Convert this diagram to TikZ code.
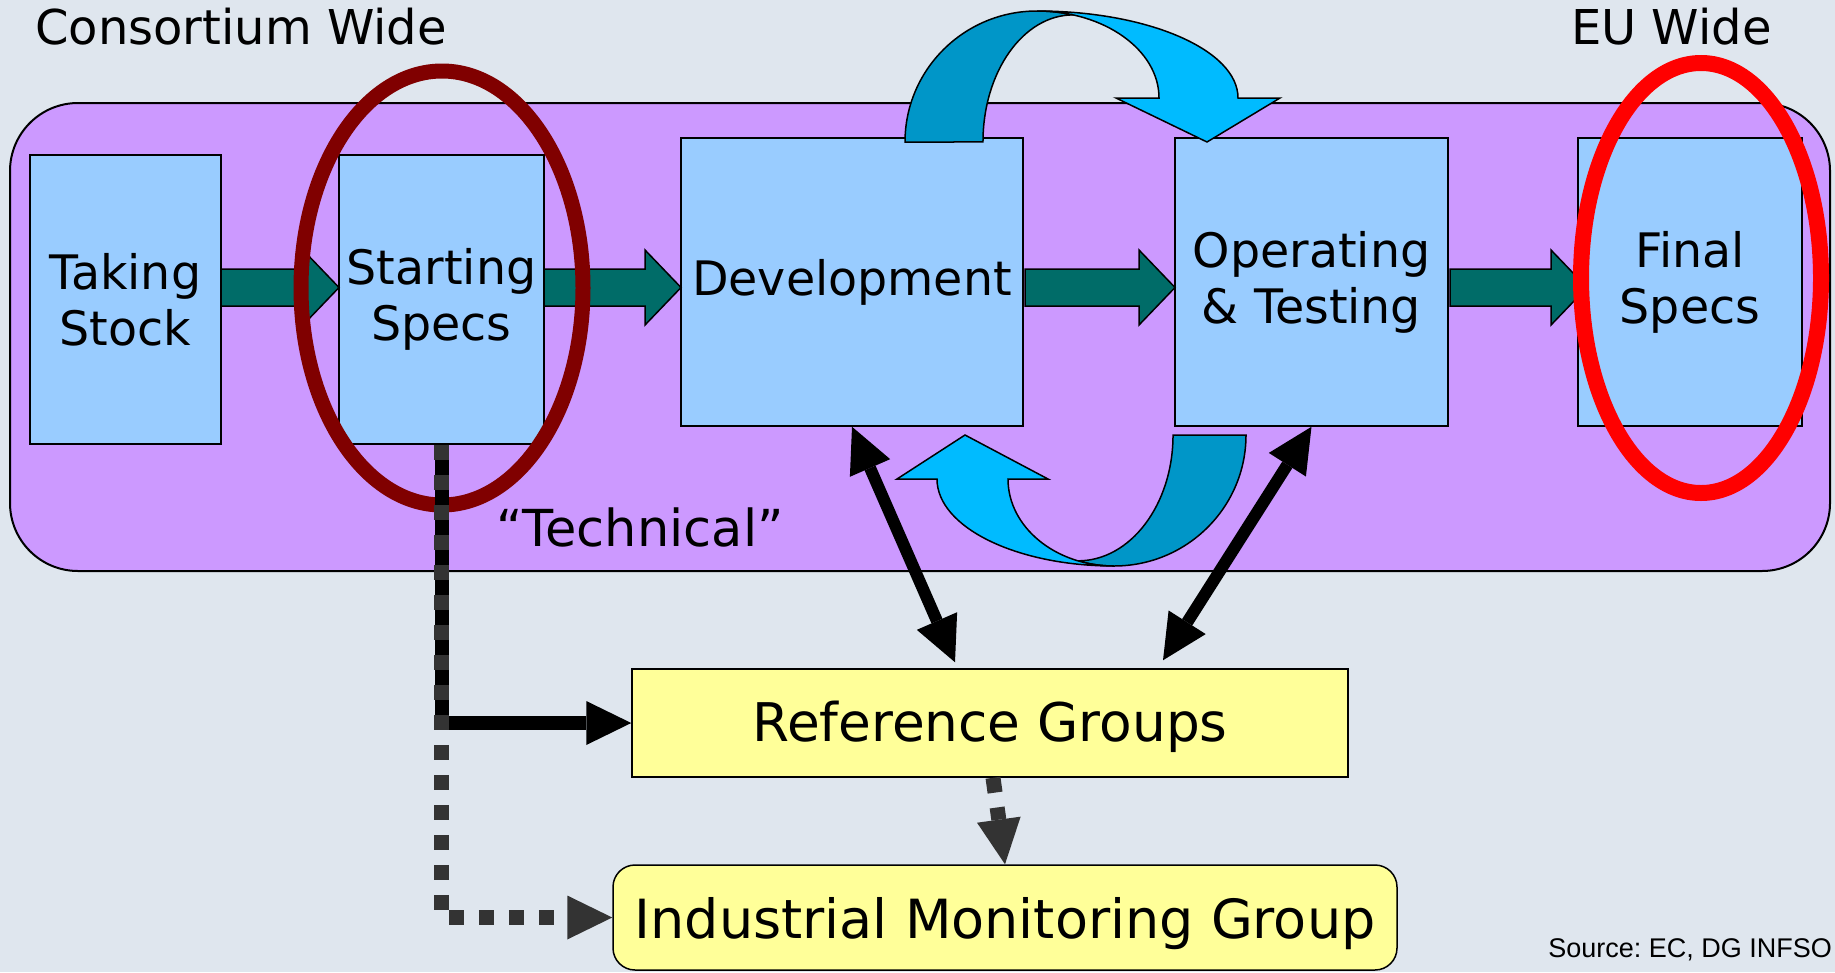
\documentclass[tikz,border=0pt]{standalone}
\usepackage{fontspec}
\setmainfont{DejaVu Sans}
\newfontfamily\arialfont{Liberation Sans}
\usetikzlibrary{arrows.meta,calc}

\definecolor{bgc}{RGB}{223,230,238}
\definecolor{purp}{RGB}{204,153,255}
\definecolor{lblue}{RGB}{153,204,255}
\definecolor{yell}{RGB}{255,255,153}
\definecolor{tealc}{RGB}{0,108,104}
\definecolor{dred}{RGB}{128,0,0}
\definecolor{cdark}{RGB}{0,150,200}
\definecolor{clight}{RGB}{0,187,255}
\definecolor{greyc}{RGB}{51,51,51}

\newcommand{\tealarrow}[3]{\draw[tealarr] (#1,269) -- (#2,269) -- (#2,250) -- (#3,287.5) -- (#2,325) -- (#2,306) -- (#1,306) -- cycle;}

\begin{document}
\frenchspacing
\begin{tikzpicture}[x=1pt,y=-1pt,
  >={Triangle[length=45pt,width=44pt,line width=0pt]},
  box/.style={draw=black, line width=1.5pt, fill=lblue, inner sep=0pt, align=center,
    font=\fontsize{47.5}{56}\selectfont},
  ybox/.style={draw=black, line width=1.5pt, fill=yell, inner sep=0pt},
  tealarr/.style={draw=black, line width=1.5pt, fill=tealc},
  ring/.style={line width=15pt},
  curvdark/.style={draw=black, line width=1.5pt, fill=cdark},
  curvlight/.style={draw=black, line width=1.5pt, fill=clight},
  dbl/.style={draw=black, line width=12pt, <->},
  solidarr/.style={draw=black, line width=14pt, ->},
  dotarr/.style={draw=greyc, line width=15pt, dash pattern=on 15pt off 15pt, ->},
  toplabel/.style={anchor=base west, inner sep=0pt, font=\fontsize{48}{56}\selectfont}
]
\path[use as bounding box, fill=bgc] (0,0) rectangle (1835,972);

% purple band
\node[draw=black, line width=2pt, fill=purp, rounded corners=68pt, minimum width=1820pt,
  minimum height=468pt, inner sep=0pt] (band) at (920,337) {};

% process boxes
\node[box, minimum width=191pt, minimum height=289pt] (ts) at (125.5,299.5) {Taking\\Stock};
\node[box, minimum width=205pt, minimum height=289pt] (ss) at (441.5,299.5) {Starting\\Specs};
\node[box, minimum width=342pt, minimum height=288pt] (dev) at (852,282) {Development};
\node[box, minimum width=273pt, minimum height=288pt] (op) at (1311.5,282) {Operating\\\& Testing};
\node[box, minimum width=224pt, minimum height=288pt] (fs) at (1690,282) {Final\\Specs};

% block arrows
\tealarrow{221}{303}{339}
\tealarrow{544}{645}{681}
\tealarrow{1025}{1139}{1175}
\tealarrow{1450}{1551}{1587}

% highlight ellipses
\draw[ring, draw=dred] (442,288) ellipse [x radius=141, y radius=217];
\draw[ring, line width=16pt, draw=red] (1701,278) ellipse [x radius=120, y radius=215];

% top curved arrow
\path[curvdark] (905,142) arc[start angle=180, end angle=270, x radius=132, y radius=131]
  arc[start angle=270, end angle=287.2, x radius=122, y radius=87]
  arc[start angle=270, end angle=180, x radius=90.1, y radius=127.1] -- cycle;
\path[curvlight] (1037,11) arc[start angle=270, end angle=360, x radius=201, y radius=87]
  -- (1280,98) -- (1207,142) -- (1116,98) -- (1159,98)
  arc[start angle=0, end angle=-90, x radius=122, y radius=87] -- cycle;

% bottom curved arrow
\path[curvdark] (1246,435) arc[start angle=0, end angle=90, x radius=132, y radius=131]
  arc[start angle=90, end angle=109.85, x radius=106, y radius=87]
  arc[start angle=90, end angle=0, x radius=95, y radius=125.8] -- cycle;
\path[curvlight] (1114,566) arc[start angle=90, end angle=180, x radius=177, y radius=87]
  -- (897,479) -- (965,435) -- (1048,479) -- (1008,479)
  arc[start angle=180, end angle=90, x radius=106, y radius=87] -- cycle;

% lower boxes
\node[ybox, minimum width=716pt, minimum height=108pt, text depth=3pt, font=\fontsize{53.3}{60}\selectfont] (rg) at (990,723) {Reference Groups};
\node[ybox, rounded corners=22pt, minimum width=784pt, minimum height=105pt, text depth=0pt, font=\fontsize{54}{60}\selectfont] (img) at (1005,917.5) {Industrial Monitoring Group};

% double arrows
\draw[dbl] (dev.south) -- ($(rg.north)+(-35,-6)$);
\draw[dbl] (op.south) -- ($(rg.north)+(173,-8)$);

% connectors from Starting Specs
\draw[solidarr] (ss.south) |- (rg.west);
\draw[dotarr] (ss.south) |- (img.west);
\draw[dotarr] ($(rg.south)+(3,0)$) -- (img.north);

% labels
\node[toplabel] (cw) at (35,44) {Consortium Wide};
\node[toplabel] (eu) at (1571,44) {EU Wide};
\node[anchor=base, inner sep=0pt, font=\fontsize{51}{58}\selectfont] (tech) at (640,546) {“Technical”};
\node[anchor=base east, inner sep=0pt, font=\arialfont\fontsize{27}{30}\selectfont] (src) at (1832,957) {Source: EC, DG INFSO};
\end{tikzpicture}
\end{document}
